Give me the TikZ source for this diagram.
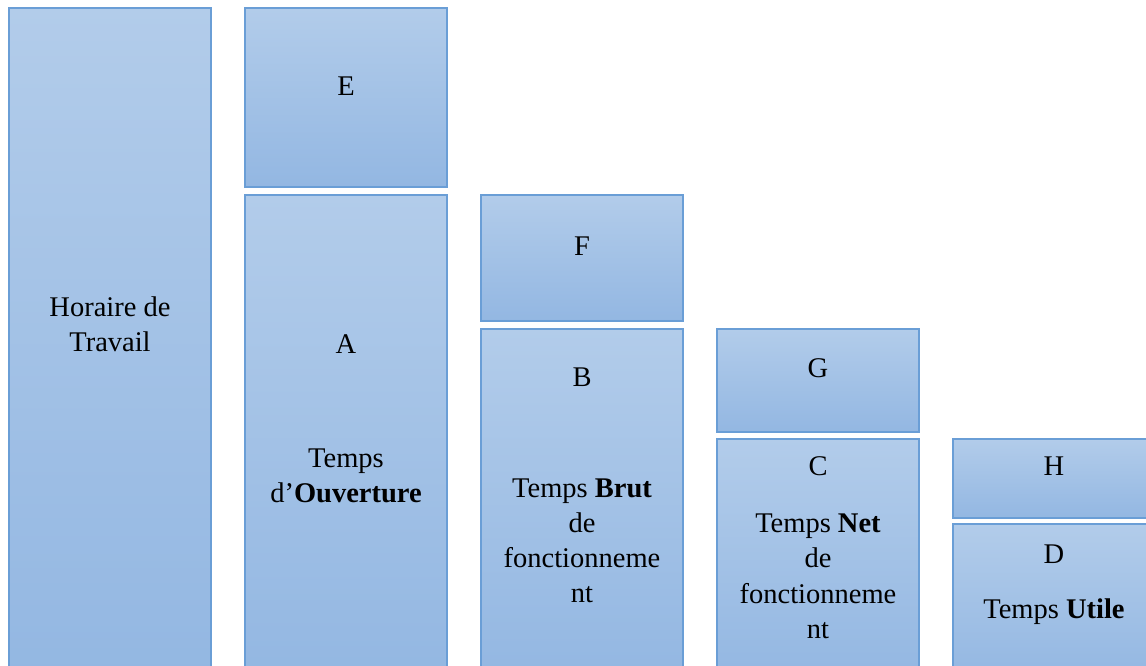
\documentclass[tikz,border=0pt]{standalone}
\usepackage{fontspec}
\setmainfont{Liberation Serif}
\definecolor{boxtop}{HTML}{B2CCEA}
\definecolor{boxbot}{HTML}{93B7E2}
\definecolor{boxline}{HTML}{6A9ED6}
\begin{document}
\begin{tikzpicture}[x=1pt,y=-1pt,
  box/.style={draw=boxline, line width=1.6pt, top color=boxtop, bottom color=boxbot,
    rectangle, inner sep=0pt, minimum width=202pt},
  lbl/.style={anchor=base, inner sep=0pt, font=\fontsize{28.5}{35}\selectfont, text=black}]
\useasboundingbox (0,0) rectangle (1146,665);
\clip (0,0) rectangle (1146,665);
% column 1
\node[box, minimum height=672pt] (hor) at (110,344) {};
% column 2
\node[box, minimum height=179pt] (E) at (346,97.5) {};
\node[box, minimum height=485pt] (A) at (346,437.5) {};
% column 3
\node[box, minimum height=126pt] (F) at (582,258) {};
\node[box, minimum height=351pt] (B) at (582,504.5) {};
% column 4
\node[box, minimum height=103pt] (G) at (818,380.5) {};
\node[box, minimum height=241pt] (C) at (818,559.5) {};
% column 5
\node[box, minimum height=79pt] (H) at (1054,478.5) {};
\node[box, minimum height=156pt] (D) at (1054,602) {};
% labels
\node[lbl] (hor1) at (110,316) {Horaire de};
\node[lbl] (hor2) at (110,351) {Travail};
\node[lbl] (Et) at (346,95) {E};
\node[lbl] (At) at (346,353) {A};
\node[lbl] (A1) at (346,467) {Temps};
\node[lbl] (A2) at (346,502) {d’\textbf{Ouverture}};
\node[lbl] (Ft) at (582,255) {F};
\node[lbl] (Bt) at (582,386) {B};
\node[lbl] (B1) at (582,497) {Temps \textbf{Brut}};
\node[lbl] (B2) at (582,532) {de};
\node[lbl] (B3) at (582,567) {fonctionneme};
\node[lbl] (B4) at (582,602) {nt};
\node[lbl] (Gt) at (818,377) {G};
\node[lbl] (Ct) at (818,475) {C};
\node[lbl] (C1) at (818,532) {Temps \textbf{Net}};
\node[lbl] (C2) at (818,567) {de};
\node[lbl] (C3) at (818,603) {fonctionneme};
\node[lbl] (C4) at (818,638) {nt};
\node[lbl] (Ht) at (1054,475) {H};
\node[lbl] (Dt) at (1054,563) {D};
\node[lbl] (D1) at (1054,618) {Temps \textbf{Utile}};
\end{tikzpicture}
\end{document}
